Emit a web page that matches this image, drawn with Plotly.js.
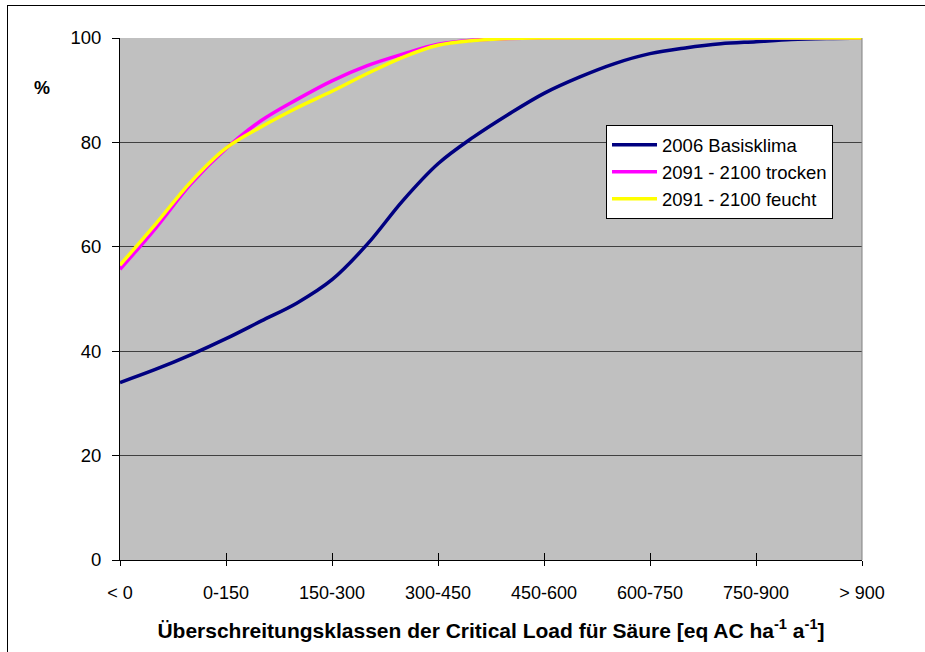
<!DOCTYPE html>
<html>
<head>
<meta charset="utf-8">
<script src="https://cdn.plot.ly/plotly-3.0.1.min.js"></script>
<style>
  html, body { margin: 0; padding: 0; background: #fff; }
  #wrap { position: relative; width: 925px; height: 652px; overflow: hidden; }
  #chart { position: absolute; left: 0; top: 0; width: 925px; height: 652px; }
  #frame { position: absolute; left: 7px; top: 5px; width: 940px; height: 700px;
           border-left: 1.5px solid #000; border-top: 1.5px solid #000; pointer-events: none; }
</style>
</head>
<body>
<div id="wrap">
  <div id="chart"></div>
  <div id="frame"></div>
</div>
<script>
// Class boundaries along the x axis (eq AC ha-1 a-1), sampled every 50 units
const loadPos = [0, 50, 100, 150, 200, 250, 300, 350, 400, 450, 500, 550, 600, 650, 700, 750, 800, 850, 900, 950, 1000, 1050];

// Cumulative share (%)
const basisklima2006 = [34.0, 36.5, 39.3, 42.4, 45.8, 49.2, 53.7, 60.5, 68.8, 75.9, 81.0, 85.4, 89.4, 92.5, 95.1, 97.0, 98.1, 98.9, 99.3, 99.7, 99.9, 100];
const trocken2091 = [55.7, 63.5, 72.0, 78.8, 84.2, 88.2, 91.8, 94.7, 96.9, 98.8, 99.6, 99.9, 100, 100, 100, 100, 100, 100, 100, 100, 100, 100];
const feucht2091 = [56.5, 64.3, 72.4, 78.9, 83.0, 86.6, 89.8, 93.2, 96.3, 98.6, 99.5, 99.9, 100, 100, 100, 100, 100, 100, 100, 100, 100, 100];

// Category tick labels
const tickPos = [0, 150, 300, 450, 600, 750, 900, 1050];
const tickLabels = ['< 0', '0-150', '150-300', '300-450', '450-600', '600-750', '750-900', '> 900'];

const seriesNames = ['2006 Basisklima', '2091 - 2100 trocken', '2091 - 2100 feucht'];
const seriesColors = ['#000080', '#FF00FF', '#FFFF00'];
const seriesValues = [basisklima2006, trocken2091, feucht2091];

const FONT = 'Arial, "Liberation Sans", sans-serif';

const traces = seriesValues.map((vals, k) => ({
  type: 'scatter',
  mode: 'lines',
  x: loadPos,
  y: vals,
  name: seriesNames[k],
  legendgroup: 'g' + k,
  line: { color: seriesColors[k], width: 3.5, shape: 'spline', smoothing: 1 },
  hoverinfo: 'x+y+name'
}));

const layout = {
  width: 925,
  height: 652,
  margin: { l: 120, r: 63, t: 38, b: 92 },
  paper_bgcolor: 'rgba(0,0,0,0)',
  plot_bgcolor: '#C0C0C0',
  font: { family: FONT, size: 18, color: '#000' },
  showlegend: true,
  legend: {
    x: 0.655, y: 0.833, xanchor: 'left', yanchor: 'top',
    bgcolor: '#FFFFFF', bordercolor: '#000', borderwidth: 1,
    font: { family: FONT, size: 18.5, color: '#000' },
    tracegroupgap: 0,
    itemwidth: 45
  },
  xaxis: {
    range: [0, 1050],
    tickmode: 'array',
    tickvals: tickPos,
    ticktext: tickLabels,
    ticks: 'outside', ticklen: 5, tickwidth: 1, tickcolor: '#000',
    ticklabelstandoff: 11,
    showline: true, linecolor: '#000', linewidth: 1,
    showgrid: false, zeroline: false,
    tickfont: { family: FONT, size: 18, color: '#000' },
    title: {
      text: 'Überschreitungsklassen der Critical Load für Säure [eq AC ha<sup>-1</sup> a<sup>-1</sup>]',
      font: { family: FONT, size: 21, color: '#000', weight: 'bold' },
      standoff: 21
    }
  },
  xaxis2: {
    overlaying: 'x', anchor: 'y', side: 'bottom',
    range: [0, 1050],
    tickmode: 'array', tickvals: tickPos,
    ticks: 'inside', ticklen: 7, tickwidth: 1, tickcolor: '#000',
    showticklabels: false, showgrid: false, zeroline: false, showline: false
  },
  yaxis: {
    range: [0, 100],
    tickmode: 'linear', tick0: 0, dtick: 20,
    ticks: 'outside', ticklen: 7, tickwidth: 1, tickcolor: '#000',
    ticklabelstandoff: 7,
    showline: true, linecolor: '#000', linewidth: 1,
    showgrid: true, gridcolor: '#404040', gridwidth: 1,
    zeroline: false,
    tickfont: { family: FONT, size: 18.5, color: '#000' }
  },
  shapes: [
    { type: 'line', xref: 'paper', yref: 'paper', x0: 1, x1: 1, y0: 0, y1: 1,
      line: { color: '#808080', width: 1 } }
  ],
  annotations: [
    { text: '%', xref: 'paper', yref: 'paper', x: -0.105, y: 0.905,
      xanchor: 'center', yanchor: 'middle', showarrow: false,
      font: { family: FONT, size: 18, color: '#000', weight: 'bold' } }
  ]
};

// invisible trace on xaxis2 so the overlay axis (upper half of the crossing ticks) is drawn
traces.unshift({ type: 'scatter', mode: 'lines', x: [0, 1050], y: [0, 0], xaxis: 'x2', yaxis: 'y',
  line: { width: 0, color: 'rgba(0,0,0,0)' }, showlegend: false, hoverinfo: 'skip' });

Plotly.newPlot('chart', traces, layout, { displayModeBar: false, staticPlot: true });
</script>
</body>
</html>
